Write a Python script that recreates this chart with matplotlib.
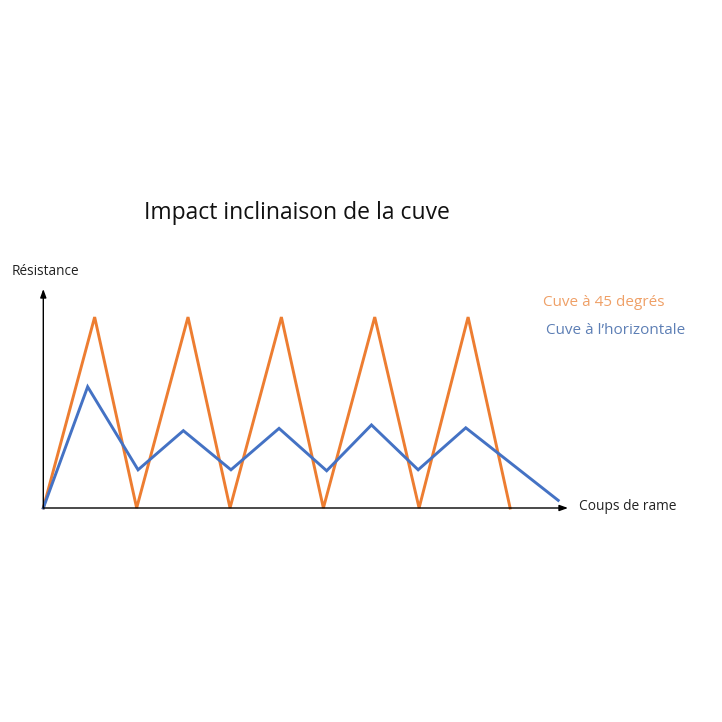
import matplotlib.pyplot as plt

# Data
x_45 = [0, 1.1, 2.0, 3.1, 4.0, 5.1, 6.0, 7.1, 8.05, 9.1, 10.0]
y_45 = [0, 10, 0, 10, 0, 10, 0, 10, 0, 10, 0]

x_horiz = [0, 0.95, 2.03, 3.0, 4.02, 5.05, 6.07, 7.03, 8.03, 9.05, 11.03]
y_horiz = [0, 6.35, 2.0, 4.05, 2.0, 4.17, 1.95, 4.35, 2.0, 4.2, 0.4]

title = "Impact inclinaison de la cuve"
label_45 = "Cuve à 45 degrés"
label_horiz = "Cuve à l\u2019horizontale"
xlabel = "Coups de rame"
ylabel = "Résistance"

plt.rcParams['font.family'] = ['Open Sans', 'DejaVu Sans']

W = H = 722
fig = plt.figure(figsize=(7.22, 7.22), dpi=100)

# axes placed so the drawn axis arrows land where the reference has them
x0, y0 = 43.3, 508
x1, y1 = 568, 289
ax = fig.add_axes([x0 / W, (H - y0) / H, (x1 - x0) / W, (y0 - y1) / H])
ax.set_xlim(0, 11.24)
ax.set_ylim(0, 11.47)
ax.axis('off')

orange = '#ED7D31'
blue = '#4472C4'
ax.plot(x_45, y_45, color=orange, linewidth=2.1, solid_joinstyle='miter', clip_on=False)
ax.plot(x_horiz, y_horiz, color=blue, linewidth=2.1, solid_joinstyle='miter', clip_on=False)

# axis arrows
arrow = dict(arrowstyle='-|>,head_length=0.5,head_width=0.18', color='black', lw=1.0,
             shrinkA=0, shrinkB=0)
ax.annotate('', xy=(1, 0), xytext=(0, 0), xycoords='axes fraction', arrowprops=arrow)
ax.annotate('', xy=(0, 1), xytext=(0, 0), xycoords='axes fraction', arrowprops=arrow)

fig.text(297 / W, 1 - 213 / H, title, ha='center', va='center', fontsize=16.5, color='#111111')
fig.text(12 / W, 1 - 272 / H, ylabel, ha='left', va='center', fontsize=9.8, color='#222222')
fig.text(579 / W, 1 - 507 / H, xlabel, ha='left', va='center', fontsize=9.9, color='#222222')
fig.text(543 / W, 1 - 302 / H, label_45, ha='left', va='center', fontsize=11, color='#EFA067')
fig.text(546 / W, 1 - 331 / H, label_horiz, ha='left', va='center', fontsize=11, color='#5D7FB5')

fig.savefig('out.png', dpi=100, facecolor='white')
